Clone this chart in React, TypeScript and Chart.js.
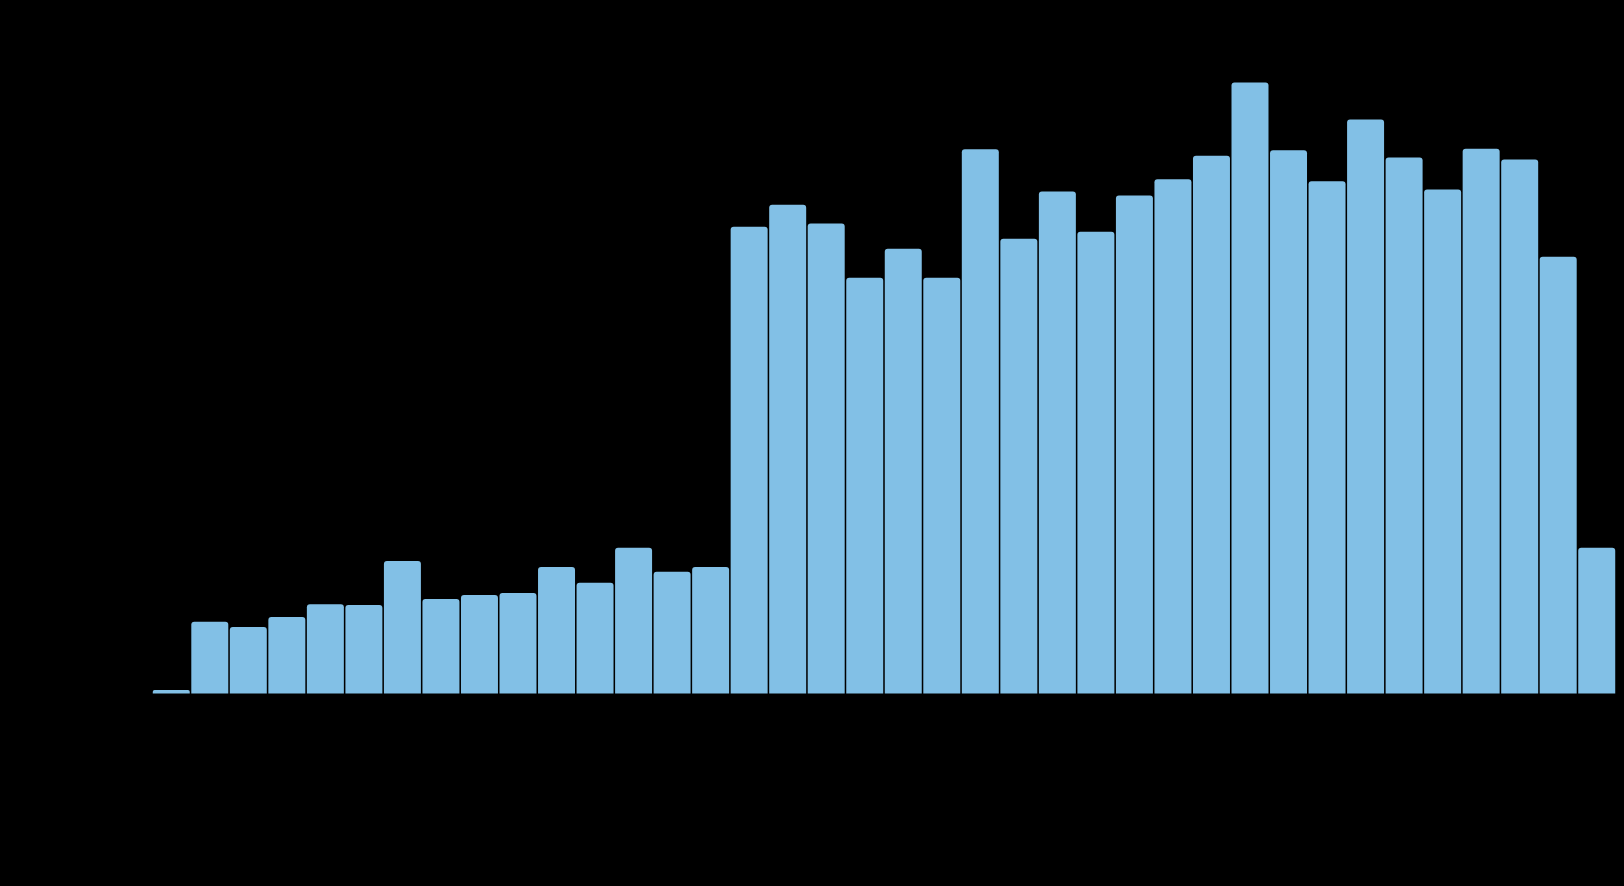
import React, { useEffect, useRef } from "react";
import { Chart, registerables } from "chart.js";

Chart.register(...registerables);

const categories: string[] = [
  "1985", "1986", "1987", "1988", "1989", "1990", "1991", "1992", "1993", "1994",
  "1995", "1996", "1997", "1998", "1999", "2000", "2001", "2002", "2003", "2004",
  "2005", "2006", "2007", "2008", "2009", "2010", "2011", "2012", "2013", "2014",
  "2015", "2016", "2017", "2018", "2019", "2020", "2021", "2022",
];

const seriesValues: number[] = [
  25, 444, 413, 474, 553, 548, 819, 585, 610, 622,
  782, 684, 900, 752, 782, 2876, 3011, 2896, 2561, 2740,
  2561, 3352, 2802, 3093, 2845, 3068, 3167, 3313, 3763, 3346,
  3155, 3535, 3301, 3105, 3356, 3290, 2691, 900,
];

const yTickValues: number[] = [0, 1000, 2000, 3000, 4000];

export default function App() {
  const canvasRef = useRef<HTMLCanvasElement | null>(null);

  useEffect(() => {
    document.documentElement.style.background = "#000";
    document.body.style.background = "#000";
    const canvas = canvasRef.current;
    if (!canvas) return;
    const chart = new Chart(canvas, {
      type: "bar",
      data: {
        labels: categories,
        datasets: [
          {
            label: "Value",
            data: seriesValues,
            backgroundColor: "rgb(130,192,230)",
            borderWidth: 0,
            borderRadius: 3,
            barPercentage: 0.96,
            categoryPercentage: 1,
          },
        ],
      },
      options: {
        animation: false,
        responsive: true,
        maintainAspectRatio: false,
        layout: { padding: { top: 36, right: 0, left: 0, bottom: 0 } },
        plugins: {
          legend: { display: false },
          tooltip: { enabled: false },
        },
        scales: {
          x: {
            grid: { display: false },
            border: { color: "#000" },
            ticks: { color: "#000", font: { size: 12 } },
            afterFit: (scale: any) => {
              scale.height = 184;
              scale.paddingLeft = 0;
              scale.paddingRight = 0;
            },
          },
          y: {
            min: 0,
            max: yTickValues[yTickValues.length - 1],
            afterBuildTicks: (scale: any) => {
              scale.ticks = yTickValues.map((v) => ({ value: v }));
            },
            grid: { color: "rgba(0,0,0,0.1)" },
            border: { color: "#000" },
            ticks: { color: "#000", font: { size: 12 } },
            afterFit: (scale: any) => {
              scale.width = 144;
              scale.paddingTop = 0;
              scale.paddingBottom = 0;
            },
          },
        },
      },
    });
    return () => chart.destroy();
  }, []);

  return (
    <div style={{ width: 1608, height: 870, background: "#000", position: "relative" }}>
      <canvas ref={canvasRef} />
    </div>
  );
}
